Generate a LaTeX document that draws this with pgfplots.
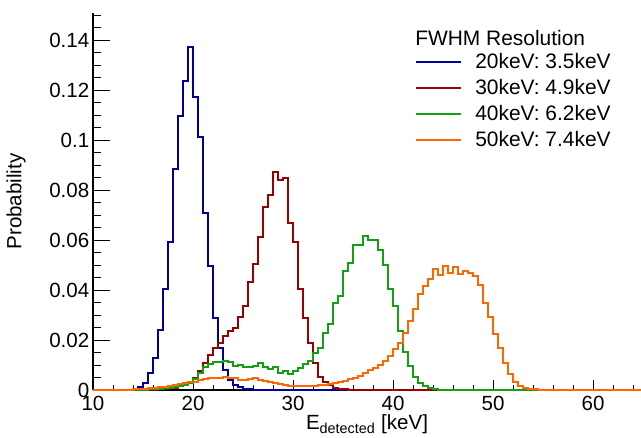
\documentclass[border=0pt]{standalone}
\usepackage{pgfplots}
\usepackage{pgfplotstable}
\pgfplotsset{compat=1.18}
\usepackage{fontspec}
\setmainfont{Liberation Sans}
\definecolor{hblue}{RGB}{0,0,153}
\definecolor{hred}{RGB}{153,0,0}
\definecolor{hgreen}{RGB}{20,160,20}
\definecolor{horange}{RGB}{255,102,0}

\pgfplotstableread{
x y
10 0
14.5 0.0013
15.0 0.0029
15.5 0.0067
16.0 0.0129
16.5 0.0240
17.0 0.0404
17.5 0.0591
18.0 0.0884
18.5 0.1095
19.0 0.1237
19.5 0.1371
20.0 0.1173
20.5 0.1013
21.0 0.0709
21.5 0.0497
22.0 0.0290
22.5 0.0167
23.0 0.0080
23.5 0.0040
24.0 0.0020
24.5 0.0013
25.0 0.0006
25.5 0.0003
26.0 0
64.8 0
}\bluedata

\pgfplotstableread{
x y
10 0
16.5 0.0003
17.0 0.0005
17.5 0.0007
18.0 0.0010
18.5 0.0015
19.0 0.0020
19.5 0.0029
20.0 0.0050
20.5 0.0075
21.0 0.0110
21.5 0.0140
22.0 0.0170
22.5 0.0190
23.0 0.0215
23.5 0.0235
24.0 0.0250
24.5 0.0293
25.0 0.0337
25.5 0.0431
26.0 0.0504
26.5 0.0613
27.0 0.0731
27.5 0.0780
28.0 0.0871
28.5 0.0840
29.0 0.0847
29.5 0.0667
30.0 0.0591
30.5 0.0404
31.0 0.0290
31.5 0.0187
32.0 0.0107
32.5 0.0053
33.0 0.0031
33.5 0.0020
34.0 0.0010
34.5 0.0005
35.0 0.0003
35.5 0
64.8 0
}\reddata

\pgfplotstableread{
x y
10 0
14.5 0.0001
15.0 0.0002
15.5 0.0003
16.0 0.0004
16.5 0.0006
17.0 0.0008
17.5 0.0010
18.0 0.0013
18.5 0.0016
19.0 0.0020
19.5 0.0027
20.0 0.0043
20.5 0.0067
21.0 0.0093
21.5 0.0103
22.0 0.0111
22.5 0.0113
23.0 0.0116
23.5 0.0111
24.0 0.0097
24.5 0.0100
25.0 0.0091
25.5 0.0093
26.0 0.0096
26.5 0.0107
27.0 0.0091
27.5 0.0083
28.0 0.0091
28.5 0.0067
29.0 0.0075
29.5 0.0063
30.0 0.0078
30.5 0.0087
31.0 0.0105
31.5 0.0116
32.0 0.0147
32.5 0.0169
33.0 0.0227
33.5 0.0264
34.0 0.0347
34.5 0.0377
35.0 0.0476
35.5 0.0507
36.0 0.0580
36.5 0.0580
37.0 0.0617
37.5 0.0600
38.0 0.0600
38.5 0.0560
39.0 0.0500
39.5 0.0403
40.0 0.0337
40.5 0.0238
41.0 0.0153
41.5 0.0095
42.0 0.0053
42.5 0.0028
43.0 0.0017
43.5 0.0009
44.0 0.0004
44.5 0
64.8 0
}\greendata

\pgfplotstableread{
x y
10 0
13.5 0.0002
14.0 0.0003
14.5 0.0004
15.0 0.0006
15.5 0.0008
16.0 0.0010
16.5 0.0012
17.0 0.0014
17.5 0.0017
18.0 0.0020
18.5 0.0024
19.0 0.0027
19.5 0.0031
20.0 0.0033
20.5 0.0039
21.0 0.0044
21.5 0.0047
22.0 0.0049
22.5 0.0049
23.0 0.0052
23.5 0.0049
24.0 0.0047
24.5 0.0041
25.0 0.0041
25.5 0.0044
26.0 0.0047
26.5 0.0041
27.0 0.0036
27.5 0.0031
28.0 0.0028
28.5 0.0024
29.0 0.0020
29.5 0.0018
30.0 0.0016
30.5 0.0015
31.0 0.0015
31.5 0.0015
32.0 0.0016
32.5 0.0019
33.0 0.0021
33.5 0.0025
34.0 0.0027
34.5 0.0033
35.0 0.0038
35.5 0.0045
36.0 0.0050
36.5 0.0058
37.0 0.0068
37.5 0.0080
38.0 0.0090
38.5 0.0102
39.0 0.0115
39.5 0.0135
40.0 0.0165
40.5 0.0190
41.0 0.0230
41.5 0.0277
42.0 0.0323
42.5 0.0383
43.0 0.0416
43.5 0.0443
44.0 0.0484
44.5 0.0460
45.0 0.0496
45.5 0.0470
46.0 0.0492
46.5 0.0464
47.0 0.0477
47.5 0.0469
48.0 0.0457
48.5 0.0420
49.0 0.0349
49.5 0.0293
50.0 0.0224
50.5 0.0167
51.0 0.0107
51.5 0.0063
52.0 0.0033
52.5 0.0017
53.0 0.0009
53.5 0.0005
54.0 0.0003
54.5 0
64.8 0
}\orangedata

\newcommand{\tickfont}{\fontsize{15.4}{17}\selectfont}
\newcommand{\legfont}{\fontsize{15.7}{18}\selectfont}

\begin{document}
\begin{tikzpicture}
% x axis (ticks and labels)
\begin{axis}[
  at={(69.75pt,35.25pt)}, anchor=south west,
  scale only axis, width=411pt, height=282.75pt,
  xmin=10, xmax=64.8, ymin=0, ymax=0.1508,
  axis x line*=bottom, axis y line=none,
  axis line style={-, line width=1pt},
  xtick={10,20,30,40,50,60},
  xticklabels={10,20,30,40,50,60},
  minor xtick={12,14,16,18,22,24,26,28,32,34,36,38,42,44,46,48,52,54,56,58,62,64},
  major tick length=7.5pt, minor tick length=3.75pt,
  tick align=inside,
  tick style={line width=0.75pt, black},
  xticklabel style={font=\tickfont, inner sep=0pt, anchor=north, yshift=-4.5pt},
  xlabel={E\textsubscript{detected} [keV]},
  xlabel style={font=\tickfont, at={(axis description cs:0.5,-0.106)}, anchor=base},
]
\end{axis}
% main axis with data and y ticks
\begin{axis}[
  at={(69.75pt,35.25pt)}, anchor=south west,
  scale only axis, width=411pt, height=282.75pt,
  xmin=10, xmax=64.8, ymin=0, ymax=0.1508,
  clip=false,
  axis x line*=bottom, axis y line*=left,
  axis line style={-, line width=1pt},
  xtick=\empty,
  ytick={0,0.02,0.04,0.06,0.08,0.1,0.12,0.14},
  yticklabels={0,0.02,0.04,0.06,0.08,0.1,0.12,0.14},
  minor ytick={0.005,0.01,0.015,0.025,0.03,0.035,0.045,0.05,0.055,0.065,0.07,0.075,0.085,0.09,0.095,0.105,0.11,0.115,0.125,0.13,0.135,0.145,0.15},
  major tick length=12.75pt, minor tick length=6pt,
  tick align=inside,
  tick style={line width=0.75pt, black},
  yticklabel style={font=\tickfont, inner sep=0pt, anchor=east, xshift=-2.6pt},
  ylabel={Probability},
  ylabel style={font=\tickfont, at={(axis description cs:-0.1405,0.5)}, anchor=center, rotate=0},
  legend style={at={(rel axis cs:0.5876,0.8912)}, anchor=north west, draw=none, fill=none,
    inner sep=0pt, row sep=7.5pt, font=\legfont,
    nodes={inner sep=0pt, text height=11pt, text depth=1pt},
    /tikz/every odd column/.append style={column sep=9.75pt}},
  legend cell align=left,
  legend image code/.code={\draw[#1] (0pt,0pt) -- (33.75pt,0pt);},
]
\addplot[const plot, hblue, line width=1.5pt] table {\bluedata};
\addlegendentry{20keV: 3.5keV}
\addplot[const plot, hred, line width=1.5pt] table {\reddata};
\addlegendentry{30keV: 4.9keV}
\addplot[const plot, hgreen, line width=1.5pt] table {\greendata};
\addlegendentry{40keV: 6.2keV}
\addplot[const plot, horange, line width=1.5pt] table {\orangedata};
\addlegendentry{50keV: 7.4keV}
\node[anchor=base west, inner sep=0pt, font=\legfont] at (rel axis cs:0.5876,0.915) {FWHM Resolution};
\end{axis}
\pgfresetboundingbox
\path (0pt,0pt) rectangle (480.75pt,327.75pt);
\end{tikzpicture}
\end{document}
